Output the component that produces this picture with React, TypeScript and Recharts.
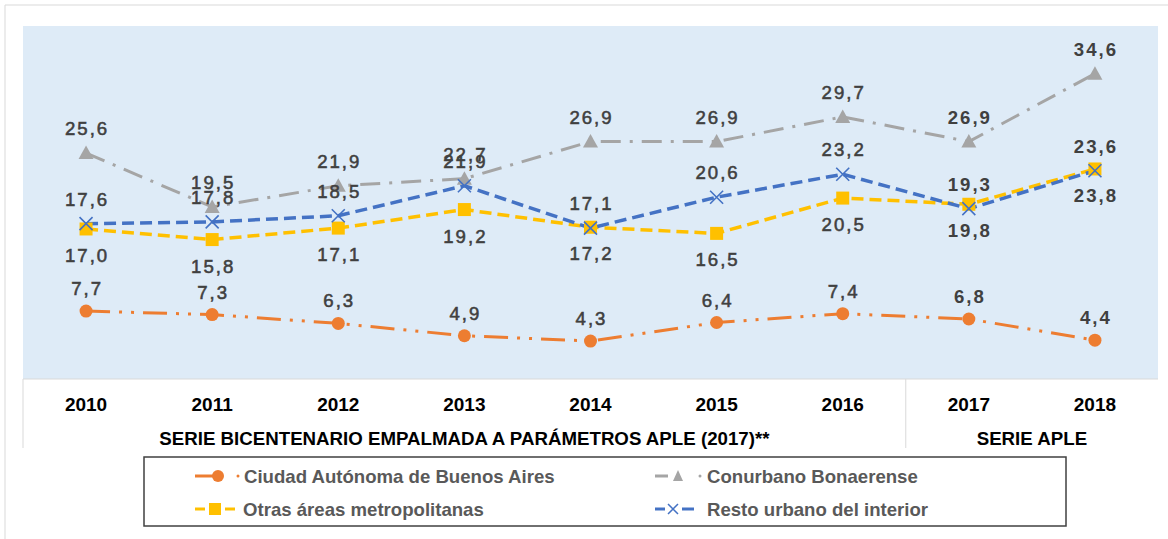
import React from 'react';
import { LineChart, Line, XAxis, YAxis, CartesianGrid, LabelList } from 'recharts';

const years = ['2010', '2011', '2012', '2013', '2014', '2015', '2016', '2017', '2018'];
const caba = [7.7, 7.3, 6.3, 4.9, 4.3, 6.4, 7.4, 6.8, 4.4];
const conurbano = [25.6, 19.5, 21.9, 22.7, 26.9, 26.9, 29.7, 26.9, 34.6];
const otras = [17.0, 15.8, 17.1, 19.2, 17.2, 16.5, 20.5, 19.8, 23.8];
const resto = [17.6, 17.8, 18.5, 21.9, 17.1, 20.6, 23.2, 19.3, 23.6];

const seriesNames = {
  caba: 'Ciudad Autónoma de Buenos Aires',
  conurbano: 'Conurbano Bonaerense',
  otras: 'Otras áreas metropolitanas',
  resto: 'Resto urbano del interior',
};
const groupLabels = ['SERIE BICENTENARIO EMPALMADA A PARÁMETROS APLE (2017)**', 'SERIE APLE'];

const data = years.map((y, i) => ({
  year: y,
  caba: caba[i],
  conurbano: conurbano[i],
  otras: otras[i],
  resto: resto[i],
}));

const W = 1168;
const H = 539;
const M = { top: 26, right: 10, left: 23, bottom: 90 };
const PLOT_W = W - M.left - M.right;
const BAND = PLOT_W / years.length;

const ORANGE = '#ED7D31';
const GRAY = '#A5A5A5';
const YELLOW = '#FFC000';
const BLUE = '#4472C4';
const FONT = '"Liberation Sans", Arial, sans-serif';

const fmt = (v: number) => v.toFixed(1).replace('.', ',');

const makeLabel = (dy: number) => (props: any) => {
  const vb = props.viewBox || {};
  const x = props.x ?? vb.x;
  const y = props.y ?? vb.y;
  const idx = props.index;
  const bold = idx >= 7;
  return (
    <text
      key={`l-${idx}`}
      x={x + 1}
      y={y + dy}
      textAnchor="middle"
      fontFamily={FONT}
      fontSize={18.6}
      letterSpacing={2}
      fontWeight={bold ? 'bold' : 'normal'}
      fill="#404040"
      stroke={bold ? 'none' : '#404040'}
      strokeWidth={bold ? 0 : 0.55}
    >
      {fmt(Number(props.value))}
    </text>
  );
};

const circleDot = (p: any) => (
  <circle key={`c-${p.index}`} cx={p.cx} cy={p.cy} r={6.5} fill={ORANGE} />
);
const triDot = (p: any) => (
  <path
    key={`t-${p.index}`}
    d={`M${p.cx},${p.cy - 7.5} L${p.cx + 7.5},${p.cy + 6} L${p.cx - 7.5},${p.cy + 6} Z`}
    fill={GRAY}
  />
);
const sqDot = (p: any) => (
  <rect key={`s-${p.index}`} x={p.cx - 6.5} y={p.cy - 6.5} width={13} height={13} fill={YELLOW} />
);
const xDot = (p: any) => (
  <path
    key={`x-${p.index}`}
    d={`M${p.cx - 6.5},${p.cy - 6.5} L${p.cx + 6.5},${p.cy + 6.5} M${p.cx + 6.5},${p.cy - 6.5} L${p.cx - 6.5},${p.cy + 6.5}`}
    stroke={BLUE}
    strokeWidth={1.6}
    fill="none"
  />
);

const renderTick = (props: any) => {
  const { x, y, payload, index } = props;
  return (
    <g key={`tick-${index}`}>
      <text x={x} y={y + 32} textAnchor="middle" fontFamily={FONT} fontSize={19} fontWeight="bold" fill="#000">
        {payload.value}
      </text>
      {(index === 0 || index === 7) && (
        <line x1={x - BAND / 2} x2={x - BAND / 2} y1={y} y2={y + 69} stroke="#D9D9D9" strokeWidth={1} />
      )}
      {index === 3 && (
        <text x={x} y={y + 66} textAnchor="middle" fontFamily={FONT} fontSize={18.7} fontWeight="bold" fill="#000">
          {groupLabels[0]}
        </text>
      )}
      {index === 7 && (
        <text x={x + BAND / 2} y={y + 66} textAnchor="middle" fontFamily={FONT} fontSize={18.7} fontWeight="bold" fill="#000">
          {groupLabels[1]}
        </text>
      )}
    </g>
  );
};

const legendText = (x: number, y: number, t: string) => (
  <text x={x} y={y} fontFamily={FONT} fontSize={18.6} fontWeight="bold" fill="#595959">
    {t}
  </text>
);

export default function App() {
  return (
    <div style={{ position: 'absolute', left: 0, top: 0, width: W, height: H, background: '#fff', overflow: 'hidden' }}>
      <LineChart width={W} height={H} data={data} margin={M}>
        <CartesianGrid horizontal={false} vertical={false} fill="#DEEBF7" stroke="none" />
        <XAxis
          dataKey="year"
          scale="point"
          padding={{ left: BAND / 2, right: BAND / 2 }}
          interval={0}
          height={70}
          tickLine={false}
          tickSize={0}
          tickMargin={0}
          axisLine={{ stroke: '#D9D9D9', strokeWidth: 1 }}
          tick={renderTick}
        />
        <YAxis hide domain={[0, 40]} />
        <Line
          dataKey="caba"
          name={seriesNames.caba}
          stroke={ORANGE}
          strokeWidth={3}
          strokeDasharray="24 9 3 9 3 9"
          dot={circleDot}
          activeDot={false}
          isAnimationActive={false}
        >
          <LabelList dataKey="caba" content={makeLabel(-16)} />
        </Line>
        <Line
          dataKey="conurbano"
          name={seriesNames.conurbano}
          stroke={GRAY}
          strokeWidth={3}
          strokeDasharray="20 9 3 9"
          dot={triDot}
          activeDot={false}
          isAnimationActive={false}
        >
          <LabelList dataKey="conurbano" content={makeLabel(-18)} />
        </Line>
        <Line
          dataKey="otras"
          name={seriesNames.otras}
          stroke={YELLOW}
          strokeWidth={3.5}
          strokeDasharray="12 6"
          dot={sqDot}
          activeDot={false}
          isAnimationActive={false}
        >
          <LabelList dataKey="otras" content={makeLabel(33)} />
        </Line>
        <Line
          dataKey="resto"
          name={seriesNames.resto}
          stroke={BLUE}
          strokeWidth={3.5}
          strokeDasharray="12 6"
          dot={xDot}
          activeDot={false}
          isAnimationActive={false}
        >
          <LabelList dataKey="resto" content={makeLabel(-18)} />
        </Line>
      </LineChart>
      <svg width={W} height={H} style={{ position: 'absolute', left: 0, top: 0, pointerEvents: 'none' }}>
        <line x1={5} y1={5} x2={W} y2={5} stroke="#D9D9D9" strokeWidth={1} />
        <line x1={5} y1={5} x2={5} y2={H} stroke="#D9D9D9" strokeWidth={1} />
        <rect x={144} y={457} width={922} height={69} fill="#fff" stroke="#404040" strokeWidth={1.5} />
        {/* CABA */}
        <line x1={195} y1={476} x2={217} y2={476} stroke={ORANGE} strokeWidth={3} />
        <circle cx={218} cy={476} r={6} fill={ORANGE} />
        <circle cx={238} cy={476} r={1.5} fill={ORANGE} />
        {legendText(244, 482.5, seriesNames.caba)}
        {/* Conurbano */}
        <line x1={655} y1={476} x2={668} y2={476} stroke={GRAY} strokeWidth={3} />
        <path d="M678,470 L683,481 L673,481 Z" fill={GRAY} />
        <circle cx={700} cy={476} r={1.5} fill={GRAY} />
        {legendText(707, 482.5, seriesNames.conurbano)}
        {/* Otras */}
        <line x1={195} y1={509} x2={205} y2={509} stroke={YELLOW} strokeWidth={3} />
        <rect x={209} y={503} width={12} height={12} fill={YELLOW} />
        <line x1={225} y1={509} x2={235} y2={509} stroke={YELLOW} strokeWidth={3} />
        {legendText(243, 515.5, seriesNames.otras)}
        {/* Resto */}
        <line x1={655} y1={509} x2={665} y2={509} stroke={BLUE} strokeWidth={3} />
        <path d="M668,504 L678,514 M678,504 L668,514" stroke={BLUE} strokeWidth={1.5} />
        <line x1={682} y1={509} x2={694} y2={509} stroke={BLUE} strokeWidth={3} />
        {legendText(707, 515.5, seriesNames.resto)}
      </svg>
    </div>
  );
}
